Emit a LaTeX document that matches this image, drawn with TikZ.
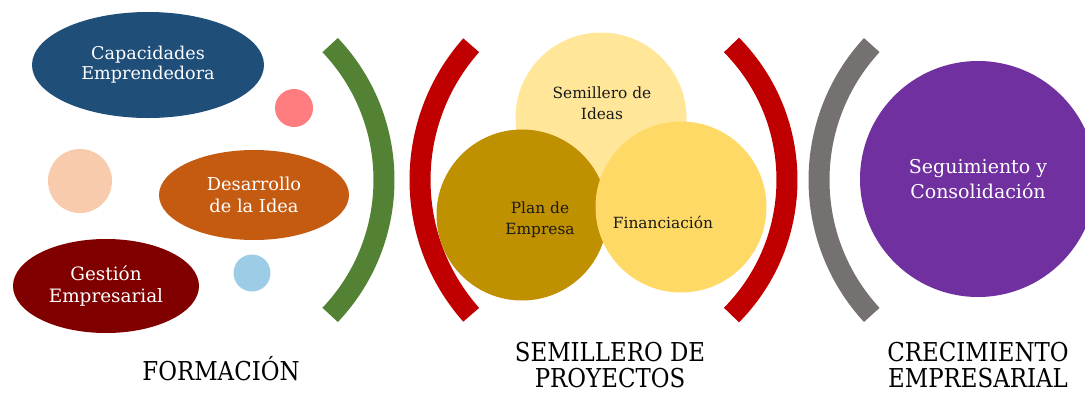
\documentclass[tikz,border=0pt]{standalone}
\usepackage{fontspec}
\setmainfont{DejaVu Serif}
\newfontfamily\capfont{DejaVu Serif}[FakeStretch=0.88]
\usetikzlibrary{shapes.geometric}
\definecolor{cblue}{HTML}{1F4E79}
\definecolor{corange}{HTML}{C55A11}
\definecolor{cmaroon}{HTML}{800000}
\definecolor{cpink}{HTML}{FF7C80}
\definecolor{cpeach}{HTML}{F8CBAD}
\definecolor{clblue}{HTML}{9DCDE6}
\definecolor{cgreen}{HTML}{548235}
\definecolor{cred}{HTML}{C00000}
\definecolor{cgray}{HTML}{767171}
\definecolor{cyl1}{HTML}{FFE699}
\definecolor{cyl2}{HTML}{BF9000}
\definecolor{cyl3}{HTML}{FFD966}
\definecolor{cpurple}{HTML}{7030A0}
\definecolor{ctext}{HTML}{1A1A1A}
\tikzset{
  bracketarc/.style={line width=21pt, line cap=butt},
  blob/.style={ellipse, draw=none, inner sep=0pt, text=white, align=center},
  dot/.style={circle, draw=none, inner sep=0pt},
  venn/.style={circle, draw=none, inner sep=0pt, minimum size=171pt},
  venntext/.style={text=ctext, align=center, inner sep=0pt, font=\fontsize{15.4}{21}\selectfont},
  stagelabel/.style={text=black, align=center, inner sep=0pt, font=\capfont\fontsize{26}{26}\selectfont}
}
\begin{document}
\begin{tikzpicture}[x=1pt, y=-1pt]
\useasboundingbox (0,0) rectangle (1085,394);
\clip (0,0) rectangle (1085,394);
% bracket arcs
\coordinate (gc) at (188,180);
\coordinate (rlc) at (623,180);
\coordinate (rrc) at (595,180);
\coordinate (grc) at (1018,180);
\draw[bracketarc, cgreen] (gc) ++(-43.5:196) arc[start angle=-43.5, end angle=43.5, radius=196];
\draw[bracketarc, cred] (rlc) ++(138.4:203) arc[start angle=138.4, end angle=221.6, radius=203];
\draw[bracketarc, cred] (rrc) ++(-44.7:192) arc[start angle=-44.7, end angle=44.7, radius=192];
\draw[bracketarc, cgray] (grc) ++(137.3:199) arc[start angle=137.3, end angle=222.7, radius=199];
% Formacion
\node[blob, fill=cblue, minimum width=232pt, minimum height=106pt,
      font=\fontsize{17.6}{20}\selectfont] (cap) at (148,65) {Capacidades\\Emprendedora};
\node[dot, fill=cpink, minimum size=38pt] (pink) at (294,108) {};
\node[dot, fill=cpeach, minimum size=64pt] (peach) at (80,181) {};
\node[blob, fill=corange, minimum width=190pt, minimum height=90pt,
      font=\fontsize{17.8}{22}\selectfont] (des) at (254,195) {Desarrollo\\de la Idea};
\node[blob, fill=cmaroon, minimum width=186pt, minimum height=94pt,
      font=\fontsize{18.4}{22}\selectfont] (ges) at (106,286) {Gestión\\Empresarial};
\node[dot, fill=clblue, minimum size=37pt] (lblue) at (252,273) {};
% Semillero venn
\node[venn, fill=cyl1] (ideas) at (601,118) {};
\node[venn, fill=cyl2] (plan) at (522,215) {};
\node[venn, fill=cyl3] (fin) at (681,207) {};
\node[venntext] (tideas) at (602,103) {Semillero de\\Ideas};
\node[venntext] (tplan) at (540,220) {Plan de\\Empresa};
\node[venntext, anchor=base] (tfin) at (663,228) {Financiación};
% Crecimiento
\node[dot, fill=cpurple, minimum size=236pt, text=white, align=center,
      font=\fontsize{19}{25}\selectfont] (seg) at (978,179) {Seguimiento y\\Consolidación};
% stage labels
\node[stagelabel, anchor=base] (formacion) at (221,380) {FORMACIÓN};
\node[stagelabel] (semillero) at (610,365) {SEMILLERO DE\\PROYECTOS};
\node[stagelabel] (crecimiento) at (978,365) {CRECIMIENTO\\EMPRESARIAL};
\end{tikzpicture}
\end{document}
